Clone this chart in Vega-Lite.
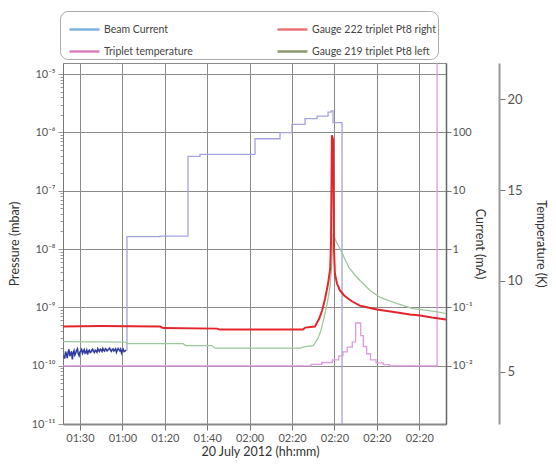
{
  "$schema": "https://vega.github.io/schema/vega-lite/v6.json",
  "width": 383,
  "height": 361,
  "autosize": {"type": "none"},
  "padding": {"left": 63, "top": 63, "right": 110, "bottom": 52},
  "background": "white",
  "config": {
    "font": "Lato",
    "view": {"stroke": "#8a8a8a", "strokeWidth": 1},
    "axis": {
      "labelFont": "Lato", "titleFont": "Lato", "labelColor": "#555", "titleColor": "#333",
      "labelFontSize": 11, "titleFontSize": 12, "titleFontWeight": "normal",
      "domainColor": "#777", "tickColor": "#777", "gridColor": "#8a8a8a", "gridOpacity": 1
    },
    "legend": {"labelFont": "Lato"}
  },
  "encoding": {
    "x": {
      "field": "t", "type": "quantitative",
      "scale": {"domain": [-0.4, 8.63], "nice": false, "zero": false},
      "axis": {
        "values": [0, 1, 2, 3, 4, 5, 6, 7, 8],
        "labelExpr": "['01:30','01:00','01:20','01:40','02:00','02:20','02:20','02:20','02:20'][datum.value]",
        "grid": true, "title": "20 July 2012 (hh:mm)", "tickSize": 6, "labelPadding": 2,
        "titlePadding": 2, "titleFontSize": 12.5, "titleX": 197, "domainWidth": 2, "domainColor": "#888", "labelFontSize": 11
      }
    }
  },
  "layer": [
    {
      "data": {"values": []},
      "mark": {"type": "point"},
      "encoding": {
        "color": {
          "field": "series", "type": "nominal",
          "scale": {
            "domain": ["Beam Current", "Triplet temperature", "Gauge 222 triplet Pt8 right", "Gauge 219 triplet Pt8 left"],
            "range": ["#4b8fd1", "#c84aa6", "#e23a3a", "#5e6d33"]
          },
          "legend": {
            "orient": "none", "legendX": -3, "legendY": -52, "columns": 2, "title": null,
            "symbolType": "stroke", "symbolSize": 900, "symbolStrokeWidth": 2.5, "symbolOffset": 6,
            "labelFontSize": 10.5, "labelColor": "#444", "strokeColor": "#aaaaaa",
            "cornerRadius": 8, "padding": 2, "rowPadding": -11, "columnPadding": 42,
            "gridAlign": "all", "fillColor": "white", "labelOffset": 3
          }
        }
      }
    },
    {
      "data": {"values": [
        {"t": -0.40, "T": 5.33, "trace": "Temperature"},
        {"t": 5.45, "T": 5.42, "trace": "Temperature"},
        {"t": 5.70, "T": 5.52, "trace": "Temperature"},
        {"t": 5.95, "T": 5.66, "trace": "Temperature"},
        {"t": 6.10, "T": 5.88, "trace": "Temperature"},
        {"t": 6.20, "T": 6.10, "trace": "Temperature"},
        {"t": 6.30, "T": 6.37, "trace": "Temperature"},
        {"t": 6.42, "T": 6.65, "trace": "Temperature"},
        {"t": 6.50, "T": 7.69, "trace": "Temperature"},
        {"t": 6.62, "T": 7.00, "trace": "Temperature"},
        {"t": 6.68, "T": 6.40, "trace": "Temperature"},
        {"t": 6.76, "T": 6.00, "trace": "Temperature"},
        {"t": 6.85, "T": 5.66, "trace": "Temperature"},
        {"t": 6.98, "T": 5.50, "trace": "Temperature"},
        {"t": 7.15, "T": 5.40, "trace": "Temperature"},
        {"t": 7.30, "T": 5.33, "trace": "Temperature"},
        {"t": 8.42, "T": 40, "trace": "Temperature"},
        {"t": 8.63, "T": 40, "trace": "Temperature"}
      ]},
      "mark": {"type": "line", "interpolate": "step-after", "clip": true, "strokeWidth": 1.3},
      "encoding": {
        "y": {
          "field": "T", "type": "quantitative",
          "scale": {"domain": [2.14, 21.98], "nice": false, "zero": false},
          "axis": {
            "orient": "right", "offset": 53, "values": [5, 10, 15, 20], "grid": false,
            "title": "Temperature (K)", "domainColor": "#999", "domainWidth": 2, "tickSize": 6,
            "titlePadding": 11, "labelFontSize": 13, "titleFontSize": 12.5
          }
        },
        "stroke": {
          "field": "trace", "type": "nominal",
          "scale": {
            "domain": ["Beam low", "Beam", "Temperature", "Gauge 219", "Gauge 222"],
            "range": ["#2e3a9e", "#a3a3dc", "#e09ae0", "#9cc89c", "#e3262b"]
          },
          "legend": null
        }
      }
    },
    {
      "layer": [
        {
          "data": {"values": [
            {"t": -0.38, "i": 0.0150, "trace": "Beam low"},
            {"t": -0.36, "i": 0.0132, "trace": "Beam low"},
            {"t": -0.34, "i": 0.0175, "trace": "Beam low"},
            {"t": -0.32, "i": 0.0158, "trace": "Beam low"},
            {"t": -0.30, "i": 0.0135, "trace": "Beam low"},
            {"t": -0.28, "i": 0.0170, "trace": "Beam low"},
            {"t": -0.26, "i": 0.0190, "trace": "Beam low"},
            {"t": -0.24, "i": 0.0145, "trace": "Beam low"},
            {"t": -0.22, "i": 0.0160, "trace": "Beam low"},
            {"t": -0.20, "i": 0.0176, "trace": "Beam low"},
            {"t": -0.18, "i": 0.0128, "trace": "Beam low"},
            {"t": -0.16, "i": 0.0166, "trace": "Beam low"},
            {"t": -0.14, "i": 0.0182, "trace": "Beam low"},
            {"t": -0.12, "i": 0.0152, "trace": "Beam low"},
            {"t": -0.10, "i": 0.0165, "trace": "Beam low"},
            {"t": -0.08, "i": 0.0184, "trace": "Beam low"},
            {"t": -0.06, "i": 0.0195, "trace": "Beam low"},
            {"t": -0.04, "i": 0.0160, "trace": "Beam low"},
            {"t": -0.02, "i": 0.0148, "trace": "Beam low"},
            {"t": 0.00, "i": 0.0172, "trace": "Beam low"},
            {"t": 0.02, "i": 0.0178, "trace": "Beam low"},
            {"t": 0.04, "i": 0.0190, "trace": "Beam low"},
            {"t": 0.06, "i": 0.0162, "trace": "Beam low"},
            {"t": 0.08, "i": 0.0176, "trace": "Beam low"},
            {"t": 0.10, "i": 0.0188, "trace": "Beam low"},
            {"t": 0.12, "i": 0.0164, "trace": "Beam low"},
            {"t": 0.14, "i": 0.0170, "trace": "Beam low"},
            {"t": 0.16, "i": 0.0186, "trace": "Beam low"},
            {"t": 0.18, "i": 0.0155, "trace": "Beam low"},
            {"t": 0.20, "i": 0.0178, "trace": "Beam low"},
            {"t": 0.22, "i": 0.0185, "trace": "Beam low"},
            {"t": 0.24, "i": 0.0168, "trace": "Beam low"},
            {"t": 0.26, "i": 0.0172, "trace": "Beam low"},
            {"t": 0.28, "i": 0.0186, "trace": "Beam low"},
            {"t": 0.30, "i": 0.0192, "trace": "Beam low"},
            {"t": 0.32, "i": 0.0174, "trace": "Beam low"},
            {"t": 0.34, "i": 0.0168, "trace": "Beam low"},
            {"t": 0.36, "i": 0.0184, "trace": "Beam low"},
            {"t": 0.38, "i": 0.0180, "trace": "Beam low"},
            {"t": 0.40, "i": 0.0170, "trace": "Beam low"},
            {"t": 0.42, "i": 0.0195, "trace": "Beam low"},
            {"t": 0.44, "i": 0.0182, "trace": "Beam low"},
            {"t": 0.46, "i": 0.0175, "trace": "Beam low"},
            {"t": 0.48, "i": 0.0193, "trace": "Beam low"},
            {"t": 0.50, "i": 0.0188, "trace": "Beam low"},
            {"t": 0.52, "i": 0.0176, "trace": "Beam low"},
            {"t": 0.54, "i": 0.0198, "trace": "Beam low"},
            {"t": 0.56, "i": 0.0184, "trace": "Beam low"},
            {"t": 0.58, "i": 0.0178, "trace": "Beam low"},
            {"t": 0.60, "i": 0.0196, "trace": "Beam low"},
            {"t": 0.62, "i": 0.0192, "trace": "Beam low"},
            {"t": 0.64, "i": 0.0179, "trace": "Beam low"},
            {"t": 0.66, "i": 0.0185, "trace": "Beam low"},
            {"t": 0.68, "i": 0.0194, "trace": "Beam low"},
            {"t": 0.70, "i": 0.0200, "trace": "Beam low"},
            {"t": 0.72, "i": 0.0183, "trace": "Beam low"},
            {"t": 0.74, "i": 0.0176, "trace": "Beam low"},
            {"t": 0.76, "i": 0.0189, "trace": "Beam low"},
            {"t": 0.78, "i": 0.0194, "trace": "Beam low"},
            {"t": 0.80, "i": 0.0178, "trace": "Beam low"},
            {"t": 0.82, "i": 0.0186, "trace": "Beam low"},
            {"t": 0.84, "i": 0.0195, "trace": "Beam low"},
            {"t": 0.86, "i": 0.0170, "trace": "Beam low"},
            {"t": 0.88, "i": 0.0185, "trace": "Beam low"},
            {"t": 0.90, "i": 0.0197, "trace": "Beam low"},
            {"t": 0.92, "i": 0.0188, "trace": "Beam low"},
            {"t": 0.94, "i": 0.0180, "trace": "Beam low"},
            {"t": 0.96, "i": 0.0193, "trace": "Beam low"},
            {"t": 0.98, "i": 0.0165, "trace": "Beam low"},
            {"t": 1.00, "i": 0.0182, "trace": "Beam low"},
            {"t": 1.02, "i": 0.0192, "trace": "Beam low"},
            {"t": 1.04, "i": 0.0174, "trace": "Beam low"},
            {"t": 1.06, "i": 0.0178, "trace": "Beam low"},
            {"t": 1.085, "i": 0.0185, "trace": "Beam low"}
          ]},
          "mark": {"type": "line", "clip": true, "strokeWidth": 1.5},
          "encoding": {
            "y": {
              "field": "i", "type": "quantitative",
              "scale": {"type": "log", "domain": [0.001, 1550], "nice": false},
              "axis": {
                "orient": "right", "values": [0.01, 0.1, 1, 10, 100], "grid": false,
                "labelExpr": "datum.value >= 1 ? format(datum.value, 'd') : (datum.value > 0.05 ? '10⁻¹' : '10⁻²')",
                "title": "Current (mA)", "domainColor": "#666", "domainWidth": 1.5, "tickSize": 5,
                "labelPadding": 1, "titlePadding": 0, "labelFontSize": 11, "titleFontSize": 12.5, "labelOverlap": false
              }
            },
            "stroke": {"field": "trace", "type": "nominal", "legend": null}
          }
        },
        {
          "data": {"values": [
            {"t": 1.085, "i": 0.0185, "trace": "Beam"},
            {"t": 1.108, "i": 1.63, "trace": "Beam"},
            {"t": 1.887, "i": 1.66, "trace": "Beam"},
            {"t": 2.547, "i": 38.7, "trace": "Beam"},
            {"t": 2.83, "i": 41.9, "trace": "Beam"},
            {"t": 4.127, "i": 77.9, "trace": "Beam"},
            {"t": 4.717, "i": 98.8, "trace": "Beam"},
            {"t": 5.0, "i": 137, "trace": "Beam"},
            {"t": 5.307, "i": 172, "trace": "Beam"},
            {"t": 5.59, "i": 190, "trace": "Beam"},
            {"t": 5.849, "i": 223, "trace": "Beam"},
            {"t": 5.92, "i": 235, "trace": "Beam"},
            {"t": 5.967, "i": 147, "trace": "Beam"},
            {"t": 6.179, "i": 0.0001, "trace": "Beam"},
            {"t": 8.63, "i": 0.0001, "trace": "Beam"}
          ]},
          "mark": {"type": "line", "interpolate": "step-after", "clip": true, "strokeWidth": 1.3},
          "encoding": {
            "y": {"field": "i", "type": "quantitative", "scale": {"type": "log", "domain": [0.001, 1550], "nice": false}},
            "stroke": {"field": "trace", "type": "nominal", "legend": null}
          }
        }
      ]
    },
    {
      "layer": [
        {
          "data": {"values": [
            {"t": -0.40, "p": 2.58e-10, "trace": "Gauge 219"},
            {"t": 1.06, "p": 2.53e-10, "trace": "Gauge 219"},
            {"t": 1.13, "p": 2.39e-10, "trace": "Gauge 219"},
            {"t": 2.43, "p": 2.39e-10, "trace": "Gauge 219"},
            {"t": 2.50, "p": 2.21e-10, "trace": "Gauge 219"},
            {"t": 3.11, "p": 2.21e-10, "trace": "Gauge 219"},
            {"t": 3.18, "p": 2.00e-10, "trace": "Gauge 219"},
            {"t": 5.19, "p": 2.00e-10, "trace": "Gauge 219"},
            {"t": 5.31, "p": 2.12e-10, "trace": "Gauge 219"},
            {"t": 5.50, "p": 2.21e-10, "trace": "Gauge 219"},
            {"t": 5.61, "p": 2.91e-10, "trace": "Gauge 219"},
            {"t": 5.68, "p": 3.99e-10, "trace": "Gauge 219"},
            {"t": 5.75, "p": 6.43e-10, "trace": "Gauge 219"},
            {"t": 5.83, "p": 1.16e-9, "trace": "Gauge 219"},
            {"t": 5.90, "p": 2.37e-9, "trace": "Gauge 219"},
            {"t": 5.94, "p": 5.89e-9, "trace": "Gauge 219"},
            {"t": 5.97, "p": 1.85e-8, "trace": "Gauge 219"},
            {"t": 6.04, "p": 1.35e-8, "trace": "Gauge 219"},
            {"t": 6.13, "p": 1.02e-8, "trace": "Gauge 219"},
            {"t": 6.23, "p": 7.18e-9, "trace": "Gauge 219"},
            {"t": 6.34, "p": 4.83e-9, "trace": "Gauge 219"},
            {"t": 6.49, "p": 3.52e-9, "trace": "Gauge 219"},
            {"t": 6.65, "p": 2.67e-9, "trace": "Gauge 219"},
            {"t": 6.84, "p": 1.95e-9, "trace": "Gauge 219"},
            {"t": 7.08, "p": 1.48e-9, "trace": "Gauge 219"},
            {"t": 7.31, "p": 1.28e-9, "trace": "Gauge 219"},
            {"t": 7.48, "p": 1.16e-9, "trace": "Gauge 219"},
            {"t": 7.85, "p": 9.53e-10, "trace": "Gauge 219"},
            {"t": 8.14, "p": 9.0e-10, "trace": "Gauge 219"},
            {"t": 8.40, "p": 8.47e-10, "trace": "Gauge 219"},
            {"t": 8.63, "p": 7.82e-10, "trace": "Gauge 219"}
          ]},
          "mark": {"type": "line", "clip": true, "strokeWidth": 1.3},
          "encoding": {
            "y": {
              "field": "p", "type": "quantitative",
              "scale": {"type": "log", "domain": [1e-11, 1.55e-5], "nice": false},
              "axis": {
                "orient": "left", "title": "Pressure (mbar)", "grid": true, "labelOverlap": false,
                "values": [1e-11, 2e-11, 3e-11, 4e-11, 5e-11, 6e-11, 7e-11, 8e-11, 9e-11,
                           1e-10, 2e-10, 3e-10, 4e-10, 5e-10, 6e-10, 7e-10, 8e-10, 9e-10,
                           1e-9, 2e-9, 3e-9, 4e-9, 5e-9, 6e-9, 7e-9, 8e-9, 9e-9,
                           1e-8, 2e-8, 3e-8, 4e-8, 5e-8, 6e-8, 7e-8, 8e-8, 9e-8,
                           1e-7, 2e-7, 3e-7, 4e-7, 5e-7, 6e-7, 7e-7, 8e-7, 9e-7,
                           1e-6, 2e-6, 3e-6, 4e-6, 5e-6, 6e-6, 7e-6, 8e-6, 9e-6, 1e-5],
                "labelExpr": "abs(log(datum.value)/LN10 - round(log(datum.value)/LN10)) < 0.001 ? ['10⁻¹¹','10⁻¹⁰','10⁻⁹','10⁻⁸','10⁻⁷','10⁻⁶','10⁻⁵'][round(log(datum.value)/LN10)+11] : ''",
                "gridOpacity": {"condition": {"test": "abs(log(datum.value)/LN10 - round(log(datum.value)/LN10)) < 0.001", "value": 1}, "value": 0},
                "tickSize": {"condition": {"test": "abs(log(datum.value)/LN10 - round(log(datum.value)/LN10)) < 0.001", "value": 5}, "value": 3},
                "tickColor": "#999", "domainColor": "#777", "labelPadding": 3, "titlePadding": 10, "labelFontSize": 11, "titleFontSize": 12.5
              }
            },
            "stroke": {"field": "trace", "type": "nominal", "legend": null}
          }
        },
        {
          "data": {"values": [
            {"t": -0.40, "p": 4.68e-10, "trace": "Gauge 222"},
            {"t": 0.47, "p": 4.77e-10, "trace": "Gauge 222"},
            {"t": 1.89, "p": 4.68e-10, "trace": "Gauge 222"},
            {"t": 1.96, "p": 4.41e-10, "trace": "Gauge 222"},
            {"t": 3.23, "p": 4.32e-10, "trace": "Gauge 222"},
            {"t": 3.30, "p": 4.16e-10, "trace": "Gauge 222"},
            {"t": 5.26, "p": 4.16e-10, "trace": "Gauge 222"},
            {"t": 5.31, "p": 4.50e-10, "trace": "Gauge 222"},
            {"t": 5.54, "p": 4.68e-10, "trace": "Gauge 222"},
            {"t": 5.64, "p": 6.43e-10, "trace": "Gauge 222"},
            {"t": 5.71, "p": 8.81e-10, "trace": "Gauge 222"},
            {"t": 5.78, "p": 1.42e-9, "trace": "Gauge 222"},
            {"t": 5.85, "p": 2.56e-9, "trace": "Gauge 222"},
            {"t": 5.90, "p": 4.64e-9, "trace": "Gauge 222"},
            {"t": 5.92, "p": 1.41e-8, "trace": "Gauge 222"},
            {"t": 5.94, "p": 8.95e-7, "trace": "Gauge 222"},
            {"t": 5.97, "p": 7.35e-7, "trace": "Gauge 222"},
            {"t": 5.99, "p": 9.46e-9, "trace": "Gauge 222"},
            {"t": 6.01, "p": 3.81e-9, "trace": "Gauge 222"},
            {"t": 6.06, "p": 2.56e-9, "trace": "Gauge 222"},
            {"t": 6.13, "p": 1.95e-9, "trace": "Gauge 222"},
            {"t": 6.23, "p": 1.60e-9, "trace": "Gauge 222"},
            {"t": 6.32, "p": 1.42e-9, "trace": "Gauge 222"},
            {"t": 6.42, "p": 1.26e-9, "trace": "Gauge 222"},
            {"t": 6.60, "p": 1.07e-9, "trace": "Gauge 222"},
            {"t": 6.79, "p": 9.93e-10, "trace": "Gauge 222"},
            {"t": 7.00, "p": 9.17e-10, "trace": "Gauge 222"},
            {"t": 7.24, "p": 8.63e-10, "trace": "Gauge 222"},
            {"t": 7.48, "p": 8.14e-10, "trace": "Gauge 222"},
            {"t": 7.78, "p": 7.52e-10, "trace": "Gauge 222"},
            {"t": 8.02, "p": 7.23e-10, "trace": "Gauge 222"},
            {"t": 8.30, "p": 6.68e-10, "trace": "Gauge 222"},
            {"t": 8.63, "p": 6.17e-10, "trace": "Gauge 222"}
          ]},
          "mark": {"type": "line", "clip": true, "strokeWidth": 2},
          "encoding": {
            "y": {"field": "p", "type": "quantitative", "scale": {"type": "log", "domain": [1e-11, 1.55e-5], "nice": false}},
            "stroke": {"field": "trace", "type": "nominal", "legend": null}
          }
        }
      ]
    }
  ],
  "resolve": {"scale": {"y": "independent"}, "axis": {"y": "independent"}}
}
